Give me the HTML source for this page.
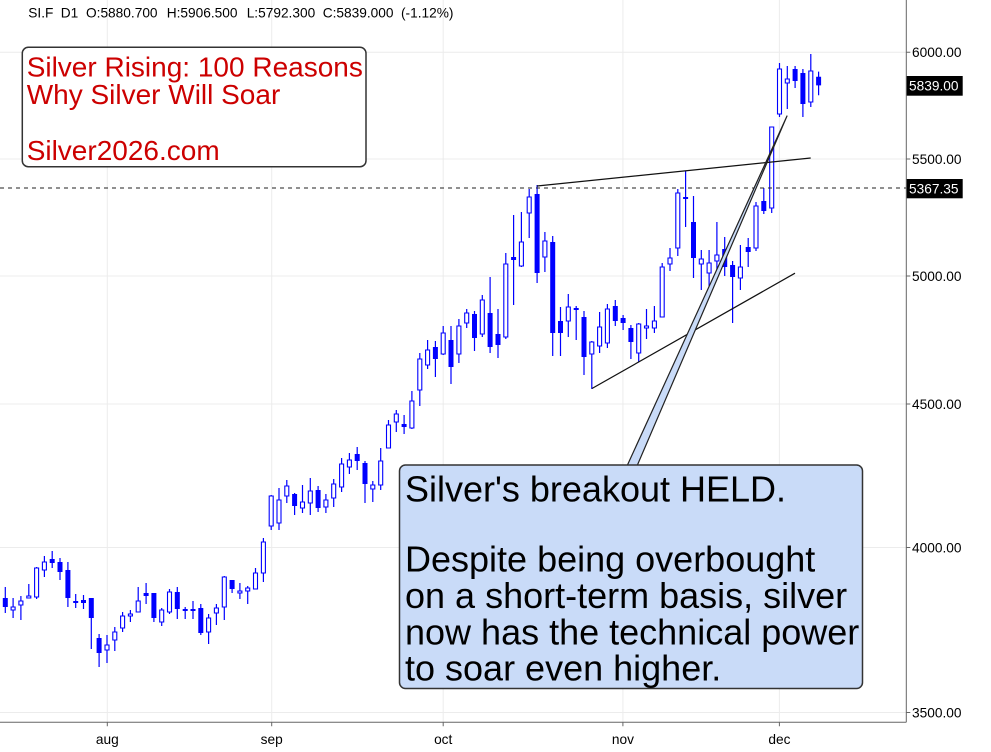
<!DOCTYPE html>
<html><head><meta charset="utf-8"><style>
html,body{margin:0;padding:0;background:#fff;}
svg{display:block;font-family:"Liberation Sans",Arial,sans-serif;}
</style></head><body>
<svg width="991" height="752" viewBox="0 0 991 752" xmlns="http://www.w3.org/2000/svg">
<rect width="991" height="752" fill="#fff"/>
<!-- grid -->
<g stroke="#ececec" stroke-width="1">
<path d="M0 52.3H906M0 159H906M0 276H906M0 404H906M0 547.5H906M0 712.5H906"/>
<path d="M107.3 0V722M271.7 0V722M443.2 0V722M622.9 0V722M779.4 0V722"/>
</g>
<!-- wicks -->
<path fill="none" stroke="#0000ff" stroke-width="1.2" d="M-2.5 572V590M5.3 587V613M13.1 598V618M20.9 596V620M28.8 584V598M36.6 567V599M44.4 556V577M52.2 551V568M60 558V580M67.9 562V607M75.7 594V608M83.5 595V609M91.3 598V649M99.1 634V667M107 635V663M114.8 627V651M122.6 612V632M130.4 610V622M138.2 587V612M146.1 583V604M153.9 593V622M161.7 608V626M169.5 589V614M177.3 587V619M185.2 607V619M193 601V619M200.8 604V635M208.6 614V644M216.4 604V625M224.3 576V620M232.1 580V593M239.9 583V599M247.7 586V604M255.5 568V589M263.4 538V582M271.2 495V530M279 488V530M286.8 480V503M294.6 493V515M302.5 485V513M310.3 478V515M318.1 486V512M325.9 494V513M333.7 479V507M341.6 458V492M349.4 453V474M357.2 447V470M365 461V503M372.8 481V502M380.7 448V490M388.5 420V448M396.3 410V432M404.1 415V434M411.9 391V429M419.8 353V406M427.6 340V369M435.4 341V377M443.2 326V355M451 326V384M458.9 319V363M466.7 309V328M474.5 311V351M482.3 295V337M490.1 277V353M498 309V358M505.8 253V339M513.6 215V305M521.4 212V267M529.2 189V238M537.1 185V283M544.9 232V272M552.7 236V356M560.5 307V356M568.3 294V337M576.2 306V340M584 311V375M591.8 341V389M599.6 312V353M607.4 304V348M615.3 300V326M623.1 315V330M630.9 325V359M638.7 323V362M646.5 309V339M654.4 306V333M662.2 263V317M670 248V271M677.8 189V256M685.6 171V227M693.5 196V278M701.3 250V290M709.1 250V293M716.9 222V270M724.7 237V276M732.6 261V323M740.4 245V290M748.2 238V267M756 202V251M763.8 188V214M771.7 127V213M779.5 63V117M787.3 66V109M795.1 66V88M802.9 69V117M810.8 54V107M818.6 71.6V95.2"/>
<!-- filled bodies -->
<path fill="#0000ff" d="M-5 575h5V587h-5zM2.8 598h5V607h-5zM49.7 559h5V563h-5zM57.5 562h5V572h-5zM65.4 570h5V598h-5zM73.2 601h5V603h-5zM81 600h5V603h-5zM88.8 598h5V618h-5zM96.6 638h5V653h-5zM143.6 593h5V596h-5zM151.4 593h5V618h-5zM174.8 592h5V609h-5zM182.7 609h5V611h-5zM190.5 609h5V611h-5zM198.3 608h5V633h-5zM229.6 580h5V589h-5zM292.1 494h5V506h-5zM315.6 490h5V508h-5zM354.7 454h5V461h-5zM362.5 463h5V484h-5zM401.6 424h5V427h-5zM432.9 347h5V359h-5zM448.5 340h5V367h-5zM472 314h5V338h-5zM487.6 313h5V347h-5zM495.5 334h5V345h-5zM511.1 257h5V260h-5zM534.6 194h5V273h-5zM550.2 242h5V333h-5zM558 321h5V333h-5zM573.7 308h5V310h-5zM581.5 317h5V357h-5zM612.8 306h5V321h-5zM620.6 318h5V323h-5zM628.4 328h5V342h-5zM683.1 197h5V199h-5zM691 222h5V258h-5zM722.2 249h5V267h-5zM730.1 265h5V277h-5zM745.7 247h5V252h-5zM761.3 201h5V211h-5zM792.6 69h5V81h-5zM800.4 73h5V104h-5zM816.1 76.7h5V85.4h-5z"/>
<!-- hollow bodies -->
<path fill="#fff" stroke="#0000ff" stroke-width="1.1" d="M11.1 607h4V610h-4zM18.9 601h4V605h-4zM26.8 596h4V598h-4zM34.6 568h4V597h-4zM42.4 562h4V570h-4zM105 645h4V650h-4zM112.8 632h4V640h-4zM120.6 616h4V628h-4zM128.4 614h4V616h-4zM136.2 601h4V612h-4zM159.7 610h4V622h-4zM167.5 592h4V612h-4zM206.6 618h4V632h-4zM214.4 608h4V613h-4zM222.3 577h4V607h-4zM237.9 591h4V593h-4zM245.7 588h4V591h-4zM253.5 573h4V589h-4zM261.4 542h4V573h-4zM269.2 496h4V526h-4zM277 500h4V523h-4zM284.8 486h4V496h-4zM300.5 502h4V508h-4zM308.3 491h4V503h-4zM323.9 500h4V507h-4zM331.7 484h4V498h-4zM339.6 464h4V487h-4zM347.4 460h4V467h-4zM370.8 485h4V489h-4zM378.7 461h4V485h-4zM386.5 425h4V448h-4zM394.3 414h4V422h-4zM409.9 401h4V428h-4zM417.8 359h4V390h-4zM425.6 350h4V365h-4zM441.2 333h4V354h-4zM456.9 326h4V354h-4zM464.7 313h4V323h-4zM480.3 300h4V334h-4zM503.8 264h4V337h-4zM519.4 242h4V266h-4zM527.2 197h4V213h-4zM542.9 241h4V257h-4zM566.3 307h4V321h-4zM589.8 342h4V354h-4zM597.6 327h4V346h-4zM605.4 309h4V343h-4zM636.7 324h4V353h-4zM644.5 326h4V328h-4zM652.4 321h4V328h-4zM660.2 267h4V317h-4zM668 258h4V264h-4zM675.8 193h4V248h-4zM699.3 259h4V264h-4zM707.1 263h4V273h-4zM714.9 255h4V261h-4zM738.4 267h4V278h-4zM754 206h4V248h-4zM769.7 127h4V208h-4zM777.5 69h4V114h-4zM785.3 79h4V83h-4zM808.8 71h4V102h-4z"/>
<!-- dashed level -->
<path d="M0 188H906" stroke="#222" stroke-width="1" stroke-dasharray="4,4"/>
<!-- trend lines -->
<path d="M537 186L810.7 158M592 388.5L795 273.2" stroke="#111" stroke-width="1.2" fill="none"/>
<!-- callout pointer -->
<polygon points="627,466 787,116 637,466" fill="#c9dbf8" stroke="#222" stroke-width="1.2" stroke-linejoin="round"/>
<!-- callout box -->
<rect x="399.5" y="465" width="463" height="223.5" rx="6" ry="6" fill="#c9dbf8" stroke="#333" stroke-width="1.5"/>
<g font-size="36" fill="#000">
<text x="405" y="501.7">Silver's breakout HELD.</text>
<text x="405" y="571.7">Despite being overbought</text>
<text x="405" y="608">on a short-term basis, silver</text>
<text x="405" y="644.3">now has the technical power</text>
<text x="405" y="680.6">to soar even higher.</text>
</g>
<!-- title box -->
<rect x="22.3" y="47.3" width="343.7" height="119.4" rx="6" ry="6" fill="#fff" stroke="#333" stroke-width="1.5"/>
<g font-size="28" fill="#cc0000">
<text x="26.7" y="76.7">Silver Rising: 100 Reasons</text>
<text x="26.7" y="104">Why Silver Will Soar</text>
<text x="26.7" y="160">Silver2026.com</text>
</g>
<!-- header -->
<g font-size="13.7" fill="#000">
<text x="28.3" y="17.3">SI.F</text>
<text x="60.7" y="17.3">D1</text>
<text x="86" y="17.3">O:5880.700</text>
<text x="166.7" y="17.3">H:5906.500</text>
<text x="246.7" y="17.3">L:5792.300</text>
<text x="322.7" y="17.3">C:5839.000</text>
<text x="401" y="17.3">(-1.12%)</text>
</g>
<!-- axes -->
<path d="M906.3 0V722.3M0 722.3H906.3" stroke="#666" stroke-width="1" fill="none"/>
<path d="M906.3 52.3h4M906.3 159h4M906.3 276h4M906.3 404h4M906.3 547.5h4M906.3 712.5h4" stroke="#666" stroke-width="1"/>
<path d="M107.3 722.3v4M271.7 722.3v4M443.2 722.3v4M622.9 722.3v4M779.4 722.3v4" stroke="#666" stroke-width="1"/>
<g font-size="13.7" fill="#000">
<text x="912" y="57.2">6000.00</text>
<text x="912" y="163.9">5500.00</text>
<text x="912" y="280.9">5000.00</text>
<text x="912" y="408.9">4500.00</text>
<text x="912" y="552.4">4000.00</text>
<text x="912" y="717.4">3500.00</text>
</g>
<rect x="906.7" y="76" width="56" height="19.7" fill="#000"/>
<rect x="906.7" y="179" width="56" height="19.3" fill="#000"/>
<g font-size="13.7" fill="#fff">
<text x="909" y="90.7">5839.00</text>
<text x="909" y="193.6">5367.35</text>
</g>
<g font-size="13.7" fill="#000" text-anchor="middle">
<text x="107.3" y="744">aug</text>
<text x="271.7" y="744">sep</text>
<text x="443.2" y="744">oct</text>
<text x="622.9" y="744">nov</text>
<text x="779.4" y="744">dec</text>
</g>
</svg>
</body></html>
